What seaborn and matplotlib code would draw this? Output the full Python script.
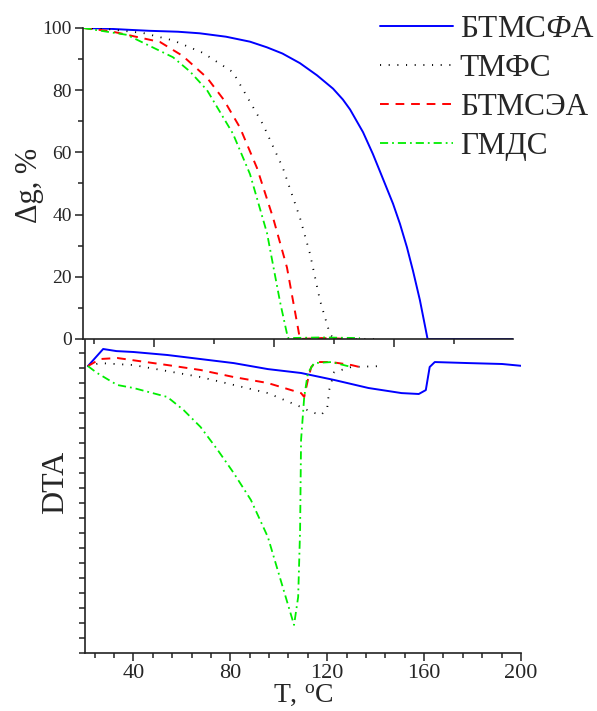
import numpy as np
import pandas as pd
import matplotlib
matplotlib.use("Agg")
import matplotlib.pyplot as plt
from matplotlib.ticker import MultipleLocator, NullFormatter
import seaborn as sns

sns.set_style("ticks")
plt.rcParams["font.family"] = ["Liberation Serif", "DejaVu Serif"]
plt.rcParams["mathtext.fontset"] = "custom"
plt.rcParams["mathtext.rm"] = "Liberation Serif"
plt.rcParams["mathtext.it"] = "Liberation Serif:italic"

names = ["БТМСФА", "ТМФС", "БТМСЭА", "ГМДС"]
legend_texts = [r"БТМС$\mathit{Ф}$А", "ТМФС", "БТМСЭА", "ГМДС"]
colors = ["#0000ff", "#000000", "#ff0000", "#00ee00"]

# Thermogravimetry: mass change, %
tg_btmsfa_t = [20.5, 30, 40, 48, 60, 69, 80, 90, 97, 103.5, 110.8, 117.9, 124.6, 128.7,
               131.7, 137.1, 141.2, 144.1, 149.6, 152.5, 155.4, 157.9, 160.8, 164.0, 180, 199.6]
tg_btmsfa_v = [100, 99.8, 99.4, 99.1, 98.8, 98.3, 97.2, 95.6, 93.8, 91.8, 88.7, 84.8, 80.5, 77.0,
               73.8, 66.5, 59.5, 54.0, 43.5, 37.0, 29.5, 22.0, 12.5, 0, 0, 0]

tg_tmfs_t = [20.5, 30, 45.4, 58, 70.4, 82.9, 95.4, 103.7, 110.8, 115, 119.2, 123.3, 125, 144]
tg_tmfs_v = [100, 99.7, 98.4, 96, 92, 85.8, 69, 55, 39, 27.4, 12.3, 1.6, 0, 0]

tg_btmsea_t = [20.5, 31.7, 52.5, 62, 72.1, 79, 85.8, 92.9, 99.6, 105.4, 110, 110.8, 120, 132.5]
tg_btmsea_v = [100, 99, 95.5, 91, 84, 77, 68, 55, 39, 23, 3.5, 0, 0.3, 0]

tg_gmds_t = [20.5, 38.7, 57.9, 65, 72.1, 82.9, 90, 97.1, 102.5, 105.8, 120, 135.8]
tg_gmds_v = [100, 97.8, 90.6, 86, 80, 66, 53, 34, 12, 0.3, 0.5, 0.3]

# Differential thermal analysis, arbitrary units
dta_btmsfa_t = [21.2, 27.5, 33, 40, 54, 67.7, 81.4, 95.5, 109.2, 123, 137, 150.7, 157.8,
                160.7, 162.3, 164.4, 178.5, 192.2, 201.3]
dta_btmsfa_v = [19.13, 20.27, 20.13, 20.07, 19.87, 19.6, 19.33, 18.93, 18.67, 18.2, 17.67,
                17.33, 17.27, 17.53, 19.07, 19.4, 19.33, 19.27, 19.13]

dta_tmfs_t = [21.2, 26.2, 40, 67.7, 95.5, 109.2, 113.4, 117.5, 120, 120.8, 122.9, 130, 142.4]
dta_tmfs_v = [19.13, 19.33, 19.2, 18.4, 17.33, 16.4, 16.07, 15.87, 16.33, 17.53, 18.73, 19.07, 19.13]

dta_btmsea_t = [21.2, 26.2, 33.3, 54, 67.7, 81.4, 95.5, 109.2, 110.5, 112, 113.4, 115.4,
                121.7, 130, 133.3]
dta_btmsea_v = [19.13, 19.6, 19.67, 19.2, 18.87, 18.4, 18.0, 17.33, 17.07, 18.2, 19.07, 19.4,
                19.4, 19.2, 19.07]

dta_gmds_t = [21.2, 25, 33.3, 40, 54, 60.7, 67.7, 74.8, 81.4, 88.5, 95.5, 102, 106.3, 108,
              108.8, 109.2, 110.5, 112, 114.6, 121.7, 130]
dta_gmds_v = [19.13, 18.67, 17.87, 17.67, 17.07, 16.2, 15.07, 13.53, 12.0, 10.2, 7.73, 4.2,
              1.87, 3.73, 8.2, 14.2, 17.07, 18.67, 19.33, 19.4, 19.07]

tg_series = [(tg_btmsfa_t, tg_btmsfa_v), (tg_tmfs_t, tg_tmfs_v),
             (tg_btmsea_t, tg_btmsea_v), (tg_gmds_t, tg_gmds_v)]
dta_series = [(dta_btmsfa_t, dta_btmsfa_v), (dta_tmfs_t, dta_tmfs_v),
              (dta_btmsea_t, dta_btmsea_v), (dta_gmds_t, dta_gmds_v)]

styles = [dict(linestyle="-", linewidth=1.4),
          dict(linestyle=(0, (0.6, 4.2)), linewidth=1.3),
          dict(linestyle=(0, (4.5, 3.5)), linewidth=1.4),
          dict(linestyle=(0, (4.5, 2.2, 1.0, 2.2)), linewidth=1.3)]

W, H = 597, 711
fig = plt.figure(figsize=(W / 100, H / 100), dpi=100)
ax_tg = fig.add_axes([83 / W, 1 - 339 / H, 430 / W, 311 / H])
ax_dta = fig.add_axes([85 / W, 1 - 653 / H, 436 / W, 313 / H])

for (t, v), name, c, st in zip(tg_series, names, colors, styles):
    df = pd.DataFrame({"T": t, "v": v})
    sns.lineplot(data=df, x="T", y="v", ax=ax_tg, color=c,
                 sort=False, estimator=None, legend=False, **st)

for (t, v), name, c, st in zip(dta_series, names, colors, styles):
    df = pd.DataFrame({"T": t, "v": v})
    sns.lineplot(data=df, x="T", y="v", ax=ax_dta, color=c,
                 sort=False, estimator=None, legend=False, **st)

for ax in (ax_tg, ax_dta):
    for side in ("top", "right"):
        ax.spines[side].set_visible(False)
    for side in ("left", "bottom"):
        ax.spines[side].set_linewidth(1.2)
        ax.spines[side].set_color("#222222")
    ax.set_facecolor("none")
    ax.tick_params(which="both", direction="out", color="#222222", width=1.1)
    ax.tick_params(which="major", length=6)
    ax.tick_params(which="minor", length=3.5)

# Upper panel: mass change
ax_tg.set_xlim(20.4, 199.6)
ax_tg.set_ylim(0, 100)
ax_tg.xaxis.set_major_locator(MultipleLocator(50))
ax_tg.xaxis.set_minor_locator(MultipleLocator(25))
ax_tg.xaxis.set_major_formatter(NullFormatter())
ax_tg.yaxis.set_major_locator(MultipleLocator(20))
ax_tg.yaxis.set_minor_locator(MultipleLocator(10))
ax_tg.tick_params(axis="y", labelsize=14, pad=2)
ax_tg.set_xlabel("")
ax_tg.set_ylabel("Δg, %", fontsize=22)
ax_tg.yaxis.label.set(ha="center", va="center")
ax_tg.yaxis.set_label_coords(-0.125, 0.495)

# Lower panel: DTA
ax_dta.set_xlim(20, 200)
ax_dta.set_ylim(0, 20.87)
ax_dta.xaxis.set_major_locator(MultipleLocator(40))
ax_dta.xaxis.set_minor_locator(MultipleLocator(8))
ax_dta.yaxis.set_major_locator(MultipleLocator(1))
ax_dta.yaxis.set_major_formatter(NullFormatter())
ax_dta.tick_params(axis="y", which="major", length=4)
ax_dta.tick_params(axis="x", labelsize=16, pad=2)
ax_dta.set_ylabel("DTA", fontsize=23)
ax_dta.yaxis.label.set(ha="center", va="center")
ax_dta.yaxis.set_label_coords(-0.068, 0.546)
ax_dta.set_xlabel(r"T, $\mathrm{^{o}}$C", fontsize=20, labelpad=0)

handles = ax_tg.get_lines()[:4]
fig.legend(handles, legend_texts, loc="upper left", bbox_to_anchor=(380 / W, 1 - 15 / H),
           frameon=False, fontsize=22.5, handlelength=2.35, handletextpad=0.2,
           labelspacing=0.32, borderpad=0, borderaxespad=0)

fig.savefig("out.png", dpi=100)
